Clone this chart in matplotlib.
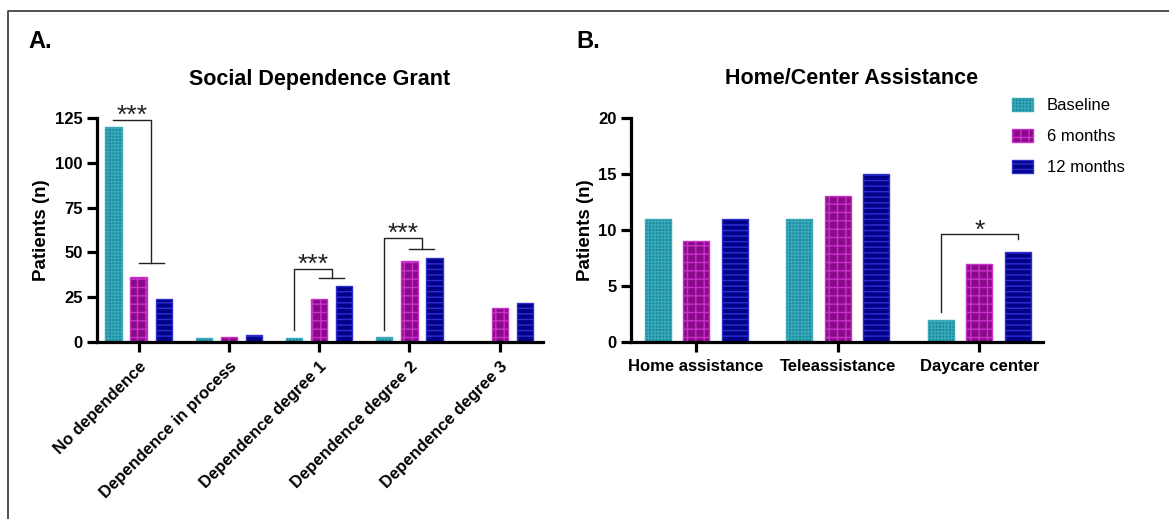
import matplotlib
matplotlib.use("Agg")
import matplotlib.pyplot as plt
from matplotlib.lines import Line2D
import numpy as np

plt.rcParams['font.family'] = ['Liberation Sans', 'DejaVu Sans']
plt.rcParams['hatch.linewidth'] = 1.0

# ---------------- data ----------------
series = ["Baseline", "6 months", "12 months"]

catA = ["No dependence", "Dependence in process", "Dependence degree 1",
        "Dependence degree 2", "Dependence degree 3"]
A_baseline = [120, 2, 2, 3, 0]
A_6m = [36, 3, 24, 45, 19]
A_12m = [24, 4, 31, 47, 22]

catB = ["Home assistance", "Teleassistance", "Daycare center"]
B_baseline = [11, 11, 2]
B_6m = [9, 13, 7]
B_12m = [11, 15, 8]

A_yticks = [0, 25, 50, 75, 100, 125]
B_yticks = [0, 5, 10, 15, 20]

# ---------------- styles ----------------
face = ["#14899a", "#8a0a8a", "#020288"]
edge = ["#3aa8b8", "#c832c8", "#2e2ed0"]
hatches = ["+++++", "++", "---"]

W, H = 1169, 519
fig = plt.figure(figsize=(W / 100, H / 100), dpi=100)


def px_rect(l, r, t, b):
    return [l / W, 1 - b / H, (r - l) / W, (b - t) / H]


axA = fig.add_axes(px_rect(97, 543, 118, 342))
axB = fig.add_axes(px_rect(631, 1043, 118, 342))


def style_axis(ax):
    for s in ["top", "right"]:
        ax.spines[s].set_visible(False)
    for s in ["left", "bottom"]:
        ax.spines[s].set_linewidth(2.3)
    ax.tick_params(axis="both", width=2.3, length=7, labelsize=12)
    ax.tick_params(axis="x", pad=5)
    for lab in ax.get_yticklabels() + ax.get_xticklabels():
        lab.set_fontweight("bold")


def draw_bars(ax, vals_list, off, width):
    xs = np.arange(len(vals_list[0]))
    handles = []
    for i, vals in enumerate(vals_list):
        b = ax.bar(xs + (i - 1) * off, vals, width, color=face[i],
                   edgecolor=edge[i], hatch=hatches[i], linewidth=1.0,
                   label=series[i], zorder=2)
        handles.append(b)
    return handles


# ---------- Panel A ----------
draw_bars(axA, [A_baseline, A_6m, A_12m], 0.278, 0.18)
axA.set_xlim(-0.46, 4.48)
axA.set_ylim(0, 125)
axA.set_yticks(A_yticks)
axA.set_xticks(range(len(catA)))
axA.set_xticklabels(catA, rotation=45, ha="right", va="top",
                    rotation_mode="anchor", fontsize=12, fontweight="bold")
style_axis(axA)

# ---------- Panel B ----------
handles = draw_bars(axB, [B_baseline, B_6m, B_12m], 0.272, 0.184)
axB.set_xlim(-0.46, 2.45)
axB.set_ylim(0, 20)
axB.set_yticks(B_yticks)
axB.set_xticks(range(len(catB)))
axB.set_xticklabels(catB, fontsize=12, fontweight="bold")
style_axis(axB)

# ---------- significance brackets ----------
lk = dict(color="#222222", lw=1.0, zorder=3, clip_on=False)


def bracket_group(ax, c, off, y_low, y_top, y_mid, stars, star_y):
    xb = c - off
    x6 = c
    x12 = c + off
    xm = (x6 + x12) / 2
    ax.plot([xb, xb, xm, xm], [y_low, y_top, y_top, y_mid], **lk)
    ax.plot([x6, x12], [y_mid, y_mid], **lk)
    ax.text((xb + xm) / 2, star_y, stars, ha="center", va="center",
            fontsize=19, color="#222222")


bracket_group(axA, 0, 0.278, 124, 124, 44, "***", 126)
bracket_group(axA, 2, 0.278, 6.7, 40.7, 35.7, "***", 43)
bracket_group(axA, 3, 0.278, 6.7, 58, 52, "***", 60.5)

# Panel B bracket: baseline vs 12 months (Daycare center)
cb = 2
axB.plot([cb - 0.272, cb - 0.272, cb + 0.272, cb + 0.272],
         [2.7, 9.64, 9.64, 9.2], **lk)
axB.text(cb, 9.95, "*", ha="center", va="center", fontsize=19, color="#222222")

# ---------- legend ----------
fig.legend(handles=handles, labels=series, loc="upper left",
           bbox_to_anchor=(1012 / W, 1 - 98 / H), frameon=False,
           fontsize=12, borderpad=0, borderaxespad=0, handlelength=1.26,
           handleheight=0.8, handletextpad=0.84, labelspacing=0.95)

# ---------- titles and labels ----------
fig.text(320 / W, 1 - 79 / H, "Social Dependence Grant", ha="center",
         va="center", fontsize=15.5, fontweight="bold")
fig.text(852 / W, 1 - 79 / H, "Home/Center Assistance", ha="center",
         va="center", fontsize=15.5, fontweight="bold")
fig.text(28 / W, 1 - 42 / H, "A.", ha="left", va="center", fontsize=17,
         fontweight="bold")
fig.text(576 / W, 1 - 42 / H, "B.", ha="left", va="center", fontsize=17,
         fontweight="bold")
fig.text(42 / W, 1 - 230 / H, "Patients (n)", ha="center", va="center",
         rotation=90, fontsize=13.5, fontweight="bold")
fig.text(585 / W, 1 - 230 / H, "Patients (n)", ha="center", va="center",
         rotation=90, fontsize=13.5, fontweight="bold")

# ---------- figure border ----------
fig.add_artist(Line2D([8 / W, 8 / W, 1.0], [0.0, 1 - 11 / H, 1 - 11 / H],
                      transform=fig.transFigure, color="#333333", lw=1.2))

fig.savefig("out.png", dpi=100, facecolor="white")
